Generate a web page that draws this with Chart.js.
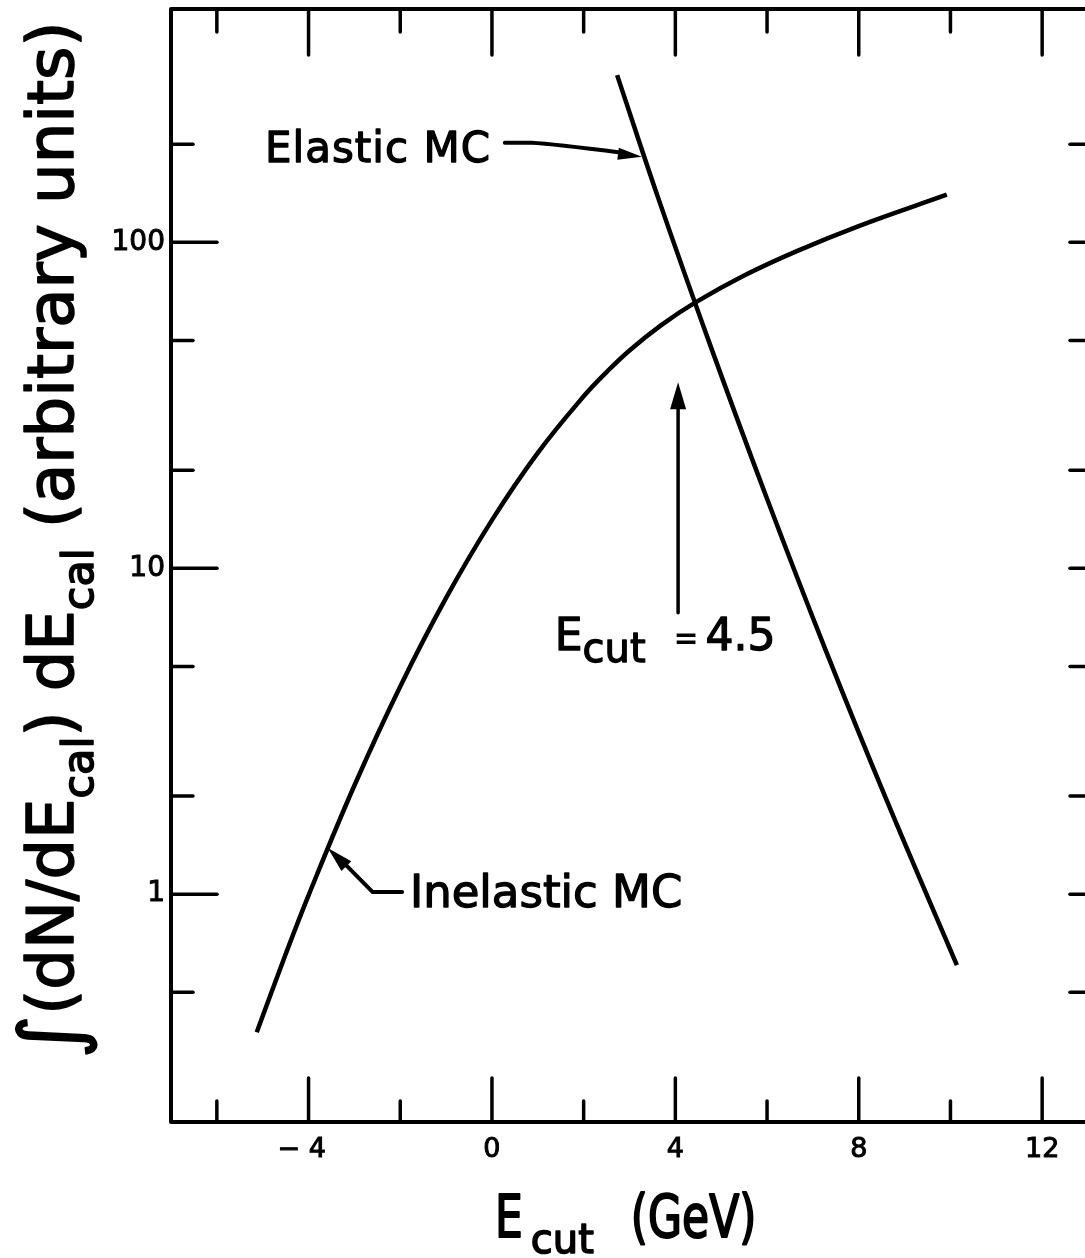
<!DOCTYPE html>
<html>
<head>
<meta charset="utf-8">
<title>Elastic vs inelastic MC</title>
<script src="https://cdn.jsdelivr.net/npm/chart.js@4.4.1/dist/chart.umd.min.js"></script>
<style>
  html, body { margin: 0; padding: 0; background: #fff; overflow: hidden; }
  #myChart { display: block; }
</style>
</head>
<body>
<canvas id="myChart" width="1100" height="1258"></canvas>
<script>
// Integrated spectra vs. cut energy (GeV), log y
const elasticE = [2.73, 3.64, 4.8, 6.01, 7.28, 8.61, 10.14];
const elasticVal = [326, 135, 46.7, 16.2, 5.6, 1.94, 0.606];

const inelasticE = [-5.13, -4.5, -4, -3, -2, -1, 0, 1, 2, 2.5, 3, 3.7, 4.43, 5.5, 6.65, 8, 9.92];
const inelasticVal = [0.377, 0.654, 0.992, 2.155, 4.34, 8.11, 14.05, 22.6, 33.7, 40.0, 46.6, 55.8, 65.3, 79.1, 94.0, 112.2, 140];

const xMajorTicks = [-4, 0, 4, 8, 12];
const xMinorTicks = [-6, -2, 2, 6, 10];
const yMajorTicks = [1, 10, 100];
const yMinorTicks = [0.5, 2, 5, 20, 50, 200];

const FONT = '"DejaVu Sans", sans-serif';
const INK = "#000";

// annotation anchors, in data units (GeV, arbitrary units)
const notes = {
	elasticText: { e: -4.95, v: 176 },
	elasticLeader: [{ e: 0.28, v: 202 }, { e: 0.87, v: 202 }, { e: 3.27, v: 183 }],
	cutArrow: { e: 4.06, from: 7.3, to: 37.2 },
	cutText: { e: 1.37, v: 5.61 },
	inelasticLeader: [{ e: -1.96, v: 1.015 }, { e: -2.6, v: 1.015 }, { e: -3.58, v: 1.387 }],
	inelasticText: { e: -1.79, v: 0.913 },
};

function line(ctx, x1, y1, x2, y2) {
	ctx.beginPath();
	ctx.moveTo(x1, y1);
	ctx.lineTo(x2, y2);
	ctx.stroke();
}

function arrowHead(ctx, tx, ty, fx, fy, len, half) {
	const a = Math.atan2(ty - fy, tx - fx);
	const bx = tx - Math.cos(a) * len;
	const by = ty - Math.sin(a) * len;
	ctx.beginPath();
	ctx.moveTo(tx, ty);
	ctx.lineTo(bx + Math.sin(a) * half, by - Math.cos(a) * half);
	ctx.lineTo(bx - Math.sin(a) * half, by + Math.cos(a) * half);
	ctx.closePath();
	ctx.fill();
}

// pen-like lettering: fill plus a thin outline
function ink(ctx, t, x, y) {
	ctx.fillText(t, x, y);
	ctx.strokeText(t, x, y);
}

// draws [text, size, dy] pieces one after another, returns the end x
function rich(ctx, parts, x, y) {
	let cx = x;
	parts.forEach(([t, size, dy]) => {
		ctx.font = size + "px " + FONT;
		ink(ctx, t, cx, y + (dy || 0));
		cx += ctx.measureText(t).width;
	});
	return cx;
}

function richWidth(ctx, parts) {
	let w = 0;
	parts.forEach(([t, size]) => {
		ctx.font = size + "px " + FONT;
		w += ctx.measureText(t).width;
	});
	return w;
}

const inkPlugin = {
	id: "ink",
	afterDraw(chart) {
		const { ctx, chartArea: a } = chart;
		const xs = chart.scales.x;
		const ys = chart.scales.y;
		const px = (e) => xs.getPixelForValue(e);
		const py = (v) => ys.getPixelForValue(v);

		ctx.save();
		ctx.strokeStyle = INK;
		ctx.fillStyle = INK;
		ctx.lineCap = "round";
		ctx.lineJoin = "round";

		// frame
		ctx.lineWidth = 4;
		ctx.strokeRect(a.left, a.top, a.right - a.left, a.bottom - a.top);

		// inward ticks on all four sides
		ctx.lineWidth = 3.5;
		xMajorTicks.forEach((e) => {
			line(ctx, px(e), a.bottom, px(e), a.bottom - 44);
			line(ctx, px(e), a.top, px(e), a.top + 46);
		});
		xMinorTicks.forEach((e) => {
			line(ctx, px(e), a.bottom, px(e), a.bottom - 21);
			line(ctx, px(e), a.top, px(e), a.top + 23);
		});
		yMajorTicks.forEach((v) => {
			line(ctx, a.left, py(v), a.left + 46, py(v));
			line(ctx, a.right, py(v), a.right - 18, py(v));
		});
		yMinorTicks.forEach((v) => {
			line(ctx, a.left, py(v), a.left + 22, py(v));
			line(ctx, a.right, py(v), a.right - 18, py(v));
		});

		ctx.textBaseline = "alphabetic";
		ctx.textAlign = "left";
		ctx.lineWidth = 1.3;

		// "Elastic MC" label and leader
		ctx.letterSpacing = "1px";
		ctx.font = "42px " + FONT;
		ink(ctx, "Elastic MC", px(notes.elasticText.e), py(notes.elasticText.v));
		ctx.letterSpacing = "0px";

		const el = notes.elasticLeader.map((p) => [px(p.e), py(p.v)]);
		ctx.lineWidth = 4;
		ctx.beginPath();
		ctx.moveTo(el[0][0], el[0][1]);
		ctx.lineTo(el[1][0], el[1][1]);
		ctx.quadraticCurveTo(el[1][0] + 20, el[1][1] + 1, el[2][0] - 20, el[2][1] - 4);
		ctx.stroke();
		arrowHead(ctx, el[2][0], el[2][1], el[1][0], el[1][1], 24, 6);

		// E_cut arrow and label
		const ca = notes.cutArrow;
		ctx.lineWidth = 3.5;
		line(ctx, px(ca.e), py(ca.from), px(ca.e), py(ca.to) + 20);
		arrowHead(ctx, px(ca.e), py(ca.to), px(ca.e), py(ca.from), 27, 8);

		ctx.lineWidth = 1.3;
		let cx = px(notes.cutText.e);
		const cy = py(notes.cutText.v);
		cx = rich(ctx, [["E", 44], ["cut", 40, 12]], cx, cy);
		ctx.font = "bold 30px " + FONT;
		ctx.fillText("=", cx + 28, cy - 2);
		ctx.font = "44px " + FONT;
		ink(ctx, "4.5", cx + 60, cy);

		// "Inelastic MC" label and leader
		const il = notes.inelasticLeader.map((p) => [px(p.e), py(p.v)]);
		ctx.lineWidth = 4;
		ctx.beginPath();
		ctx.moveTo(il[0][0], il[0][1]);
		ctx.lineTo(il[1][0], il[1][1]);
		ctx.lineTo(il[2][0] + 14, il[2][1] + 13);
		ctx.stroke();
		arrowHead(ctx, il[2][0], il[2][1], il[1][0], il[1][1], 26, 7);
		ctx.lineWidth = 1.3;
		ctx.font = "45px " + FONT;
		ink(ctx, "Inelastic MC", px(notes.inelasticText.e), py(notes.inelasticText.v));

		// x axis title: E_cut (GeV)
		ctx.save();
		ctx.translate(495, 1237);
		ctx.lineWidth = 1.6;
		ctx.font = "44px " + FONT;
		const eW = ctx.measureText("E").width;
		ctx.save();
		ctx.scale(1, 1.35);
		ink(ctx, "E", 0, 0);
		ctx.restore();
		ctx.font = "40px " + FONT;
		ink(ctx, "cut", eW + 8, 16);
		const cW = ctx.measureText("cut").width;
		ctx.font = "44px " + FONT;
		ctx.save();
		ctx.scale(1, 1.35);
		ink(ctx, "(GeV)", eW + cW + 45, 0);
		ctx.restore();
		ctx.restore();

		// y axis title, reading upward
		const yParts = [
			["∫", 84, 6],
			["(dN/dE", 64],
			["cal", 43, 20],
			[") dE", 64],
			["cal", 43, 20],
			[" (arbitrary units)", 64],
		];
		ctx.save();
		ctx.translate(73, 540);
		ctx.rotate(-Math.PI / 2);
		ctx.lineWidth = 1.6;
		const w = richWidth(ctx, yParts);
		rich(ctx, yParts, -w / 2, 0);
		ctx.restore();

		ctx.restore();
	},
};

const ctx = document.getElementById("myChart");

new Chart(ctx, {
	type: "line",
	data: {
		datasets: [
			{
				label: "Elastic MC",
				data: elasticE.map((e, i) => ({ x: e, y: elasticVal[i] })),
				borderColor: INK,
				borderWidth: 4.5,
				pointRadius: 0,
				tension: 0.4,
				fill: false,
			},
			{
				label: "Inelastic MC",
				data: inelasticE.map((e, i) => ({ x: e, y: inelasticVal[i] })),
				borderColor: INK,
				borderWidth: 4.5,
				pointRadius: 0,
				tension: 0.4,
				fill: false,
			},
		],
	},
	options: {
		responsive: false,
		animation: false,
		devicePixelRatio: 1,
		layout: { padding: { top: 9, right: 12, left: 0, bottom: 0 } },
		plugins: {
			legend: { display: false },
			tooltip: { enabled: false },
		},
		scales: {
			x: {
				type: "linear",
				min: -7,
				max: 13,
				grid: { display: false, drawTicks: false },
				border: { display: false },
				afterBuildTicks: (axis) => {
					axis.ticks = xMajorTicks.map((v) => ({ value: v }));
				},
				afterFit: (axis) => {
					axis.height = 136;
					axis.paddingLeft = 0;
					axis.paddingRight = 0;
				},
				ticks: {
					color: INK,
					padding: 12,
					maxRotation: 0,
					textStrokeColor: INK,
					textStrokeWidth: 1,
					font: { family: FONT, size: 27 },
					callback: (v) => (v < 0 ? "\u2212 " + Math.abs(v) + "\u2002" : String(v)),
				},
			},
			y: {
				type: "logarithmic",
				min: 0.2,
				max: 520,
				grid: { display: false, drawTicks: false },
				border: { display: false },
				afterBuildTicks: (axis) => {
					axis.ticks = yMajorTicks.map((v) => ({ value: v }));
				},
				afterFit: (axis) => {
					axis.width = 171;
					axis.paddingTop = 0;
					axis.paddingBottom = 0;
				},
				ticks: {
					color: INK,
					padding: 6,
					textStrokeColor: INK,
					textStrokeWidth: 1,
					font: { family: FONT, size: 28 },
					callback: (v) => String(v),
				},
			},
		},
	},
	plugins: [inkPlugin],
});
</script>
</body>
</html>
